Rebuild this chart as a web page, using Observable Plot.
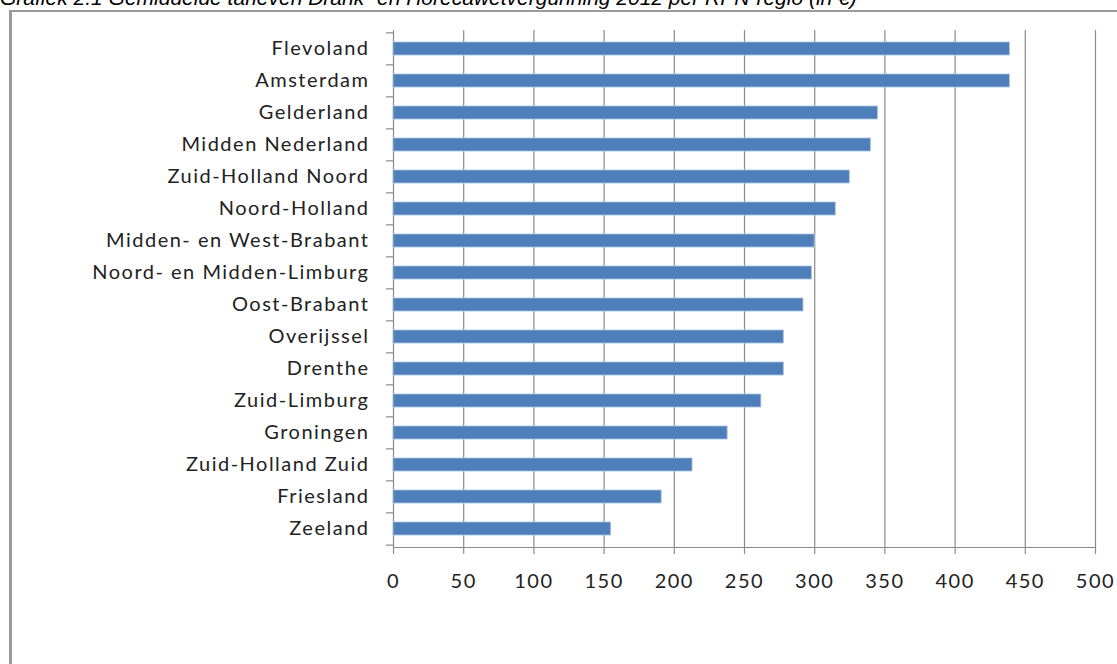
<!DOCTYPE html>
<html>
<head>
<meta charset="utf-8">
<script src="https://cdn.jsdelivr.net/npm/d3@7"></script>
<script src="https://cdn.jsdelivr.net/npm/@observablehq/plot@0.6"></script>
<style>
  html, body { margin: 0; padding: 0; background: #fff; overflow: hidden; }
  #wrap { position: relative; width: 1117px; height: 664px; }
  #title { position: absolute; left: 0; top: -14px; font: italic 21px "Liberation Sans", Arial, sans-serif; color: #000; white-space: nowrap; line-height: 24px; }
  #frame { position: absolute; left: 9px; top: 10px; right: -10px; bottom: -10px; border-left: 3px solid #9a9a9a; border-top: 2px solid #9a9a9a; }
  #chart { position: absolute; left: 0; top: 0; }
  #chart text { letter-spacing: 1.5px; }
</style>
</head>
<body>
<div id="wrap">
  <div id="title">Grafiek 2.1 Gemiddelde tarieven Drank- en Horecawetvergunning 2012 per RPN-regio (in €)</div>
  <div id="frame"></div>
  <div id="chart"></div>
</div>
<script>
const regions = ["Flevoland", "Amsterdam", "Gelderland", "Midden Nederland", "Zuid-Holland Noord", "Noord-Holland", "Midden- en West-Brabant", "Noord- en Midden-Limburg", "Oost-Brabant", "Overijssel", "Drenthe", "Zuid-Limburg", "Groningen", "Zuid-Holland Zuid", "Friesland", "Zeeland"];
const tarieven = [439, 439, 345, 340, 325, 315, 300, 298, 292, 278, 278, 262, 238, 213, 191, 155];
const xTicks = [0, 50, 100, 150, 200, 250, 300, 350, 400, 450, 500];

const data = regions.map((r, i) => ({region: r, value: tarieven[i]}));

const H = 664, mt = 30, mb = 117;
const step = (H - mt - mb) / regions.length;

const chart = Plot.plot({
  width: 1117,
  height: H,
  marginLeft: 393,
  marginRight: 22,
  marginTop: mt,
  marginBottom: mb,
  style: {fontFamily: "Lato, sans-serif", color: "#222", background: "transparent"},
  x: {domain: [0, 500], ticks: xTicks, label: null},
  y: {domain: regions, paddingInner: 0.6, paddingOuter: 0.3, label: null},
  marks: [
    Plot.ruleX(xTicks, {stroke: "#8a8a8a", strokeWidth: 1.2}),
    Plot.frame({anchor: "bottom", stroke: "#8a8a8a", strokeWidth: 1.2}),
    Plot.axisY({tickSize: 7, dy: -step / 2, text: null, label: null, stroke: "#8a8a8a", strokeWidth: 1.2}),
    Plot.axisY({ticks: [regions[regions.length - 1]], tickSize: 7, dy: step / 2, text: null, label: null, stroke: "#8a8a8a", strokeWidth: 1.2}),
    Plot.axisY({tickSize: 0, tickPadding: 24, fontSize: 20, fill: "#222", label: null}),
    Plot.axisX({ticks: xTicks, tickSize: 7, tickPadding: 19, fontSize: 20, fill: "#222", stroke: "#8a8a8a", strokeWidth: 1.2, label: null}),
    Plot.barX(data, {x: "value", y: "region", fill: "#4f7fba", stroke: "#a9c0de", strokeWidth: 0.8})
  ]
});
document.getElementById("chart").appendChild(chart);
</script>
</body>
</html>
